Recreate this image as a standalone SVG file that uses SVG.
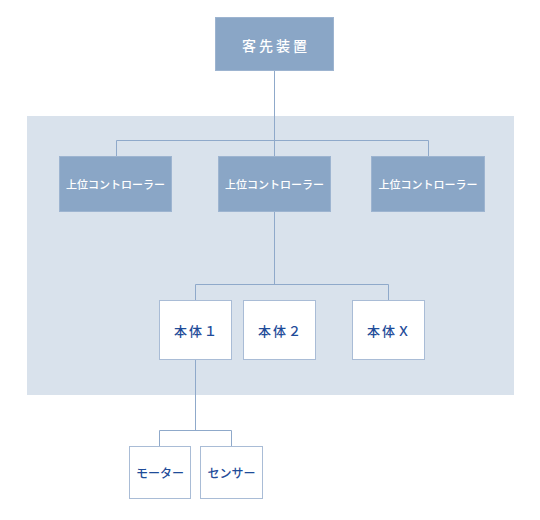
<svg xmlns="http://www.w3.org/2000/svg" width="540" height="520" viewBox="0 0 540 520">
<style>
.blue{fill:#8aa6c6;stroke:#9db4d0;stroke-width:1}
.white{fill:#ffffff;stroke:#a9bcd6;stroke-width:1}
.wt{fill:#ffffff;font-family:"Noto Sans CJK JP","Noto Sans",sans-serif;font-weight:500;text-anchor:middle;dominant-baseline:central}
.bt{fill:#1f4c99;font-family:"Noto Sans CJK JP","Noto Sans",sans-serif;font-weight:500;text-anchor:middle;dominant-baseline:central}
.ln{fill:none;stroke:#8fa9ca;stroke-width:1}
</style>
<rect x="0" y="0" width="540" height="520" fill="#ffffff"/>
<rect id="panel" x="27" y="116" width="487" height="279" fill="#d9e2ec"/>
<g id="connectors">
<path class="ln" d="M274.5 70 V156"/>
<path class="ln" d="M116.5 156 V140.5 H428.5 V156"/>
<path class="ln" d="M274.5 211 V285"/>
<path class="ln" d="M195.5 300 V284.5 H388.5 V300"/>
<path class="ln" d="M195.5 360 V431"/>
<path class="ln" d="M159.5 446 V430.5 H231.5 V446"/>
</g>
<g id="n-kyakusaki">
<rect class="blue" x="215.5" y="17.5" width="118" height="53"/>
<text class="wt" x="276" y="45" font-size="14" letter-spacing="3">客先装置</text>
</g>
<g id="n-ctrl1">
<rect class="blue" x="59.5" y="156.5" width="112" height="55"/>
<text class="wt" x="115.5" y="184" font-size="11">上位コントローラー</text>
</g>
<g id="n-ctrl2">
<rect class="blue" x="218.5" y="156.5" width="112" height="55"/>
<text class="wt" x="274.5" y="184" font-size="11">上位コントローラー</text>
</g>
<g id="n-ctrl3">
<rect class="blue" x="371.5" y="156.5" width="113" height="55"/>
<text class="wt" x="428" y="184" font-size="11">上位コントローラー</text>
</g>
<g id="n-body1">
<rect class="white" x="159.5" y="300.5" width="72" height="59"/>
<text class="bt" x="196.5" y="330" font-size="13" letter-spacing="2">本体１</text>
</g>
<g id="n-body2">
<rect class="white" x="243.5" y="300.5" width="72" height="59"/>
<text class="bt" x="280.5" y="330" font-size="13" letter-spacing="2">本体２</text>
</g>
<g id="n-bodyx">
<rect class="white" x="352.5" y="300.5" width="72" height="59"/>
<text class="bt" x="389.5" y="330" font-size="13" letter-spacing="2">本体Ｘ</text>
</g>
<g id="n-motor">
<rect class="white" x="129.5" y="446.5" width="61" height="52"/>
<text class="bt" x="160" y="472" font-size="12">モーター</text>
</g>
<g id="n-sensor">
<rect class="white" x="200.5" y="446.5" width="62" height="52"/>
<text class="bt" x="231.5" y="472" font-size="12">センサー</text>
</g>
</svg>
